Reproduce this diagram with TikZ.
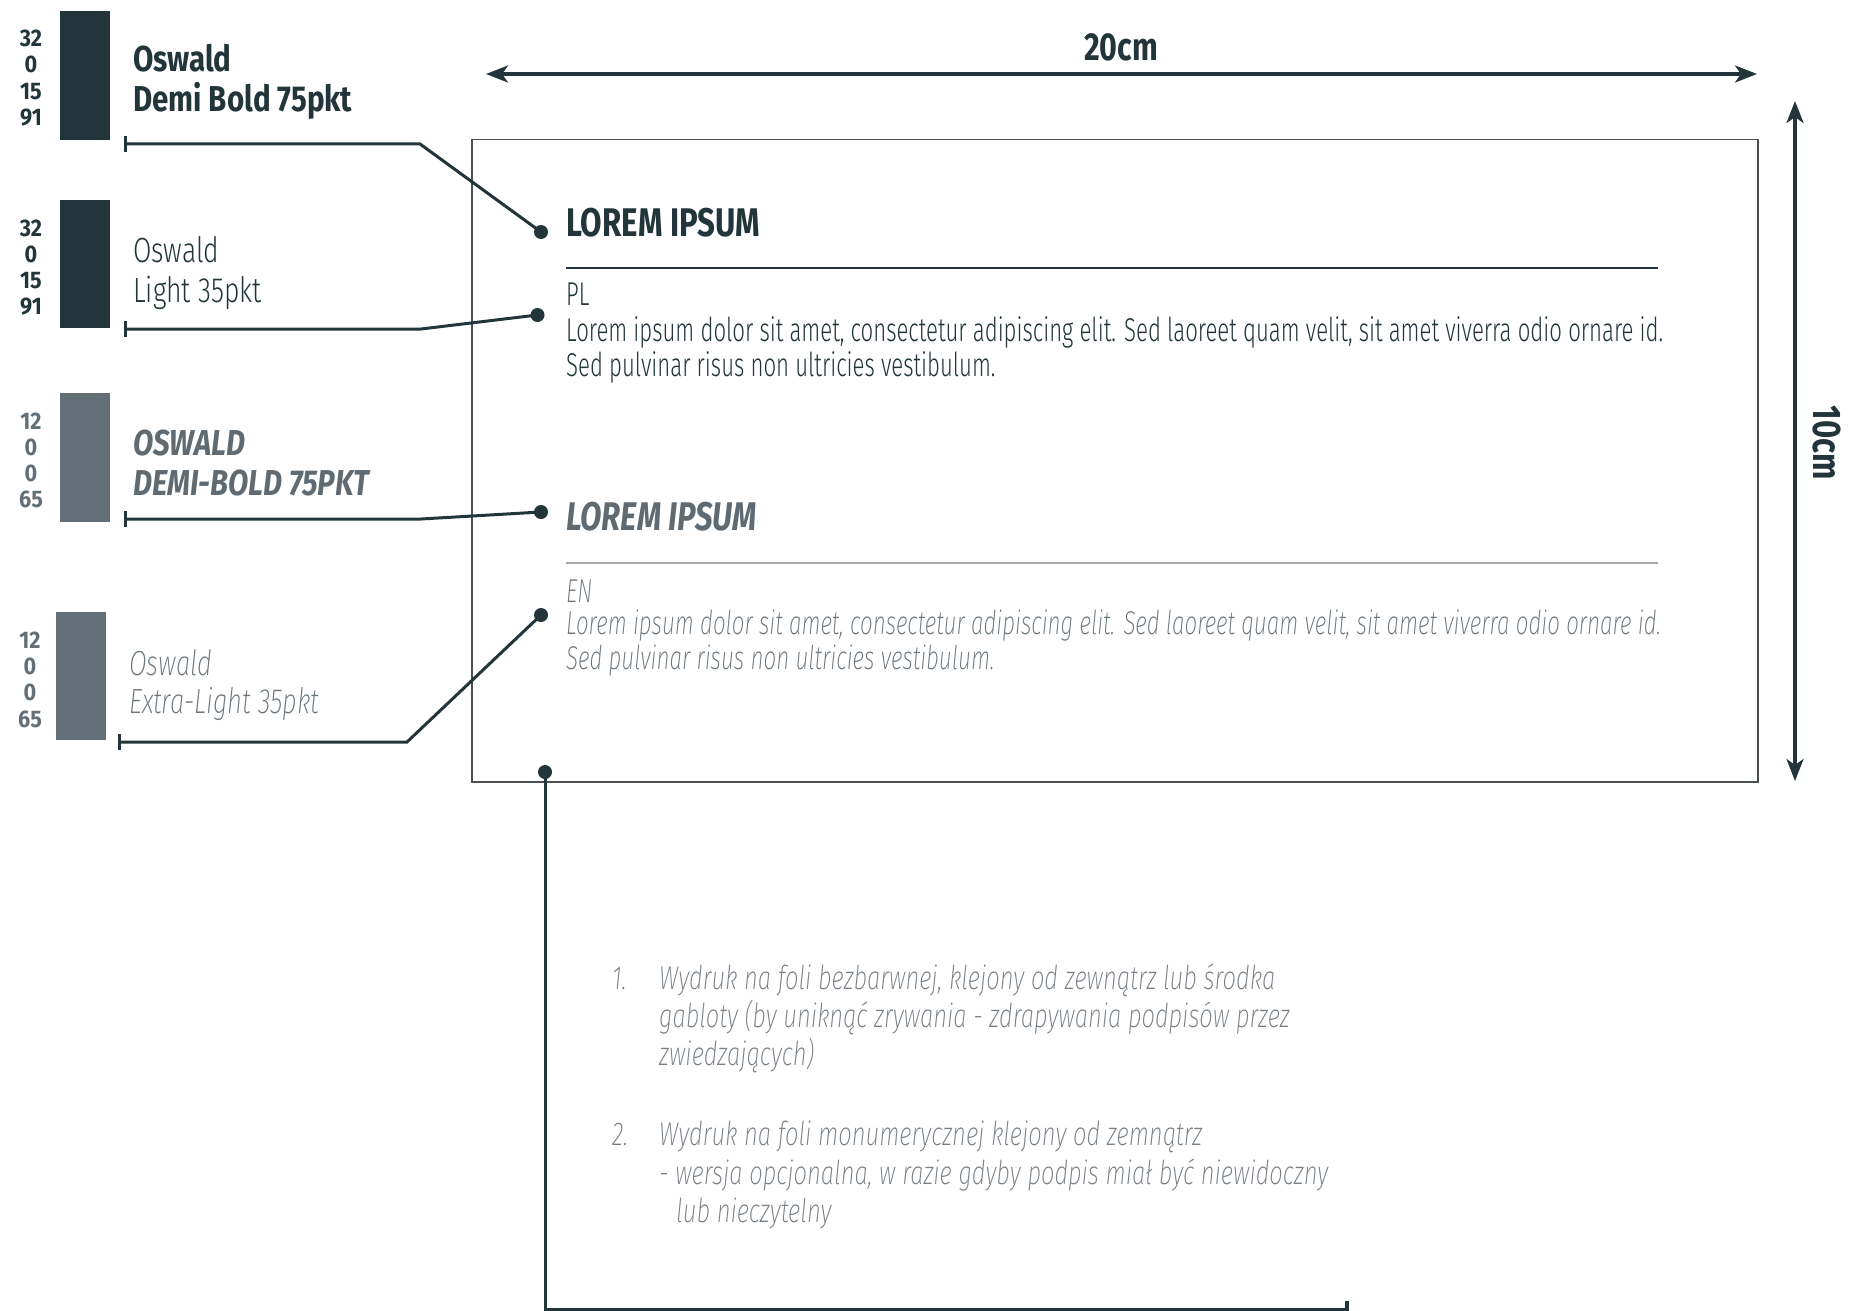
\documentclass[tikz,border=0pt]{standalone}
\usepackage{fontspec}
\usetikzlibrary{arrows.meta}
\setmainfont{Fira Sans}
\newfontfamily\osB{Fira Sans}[FakeStretch=0.78]
\newfontfamily\osBl{Fira Sans}[FakeStretch=0.82]
\newfontfamily\osBn{Fira Sans}[FakeStretch=0.9]
\newfontfamily\osL{Fira Sans Light}[FakeStretch=0.672]
\newfontfamily\osLl{Fira Sans Light}[FakeStretch=0.76]
\newfontfamily\osXL{Fira Sans ExtraLight}[FakeStretch=0.678]
\newfontfamily\osXLl{Fira Sans ExtraLight}[FakeStretch=0.73]
\newfontfamily\osLi{Fira Sans ExtraLight}[FakeStretch=0.72]
\definecolor{dark}{HTML}{22353A}
\definecolor{swgray}{HTML}{636F77}
\definecolor{hgray}{HTML}{5F6A72}
\definecolor{engray}{HTML}{6B757C}
\definecolor{ligray}{HTML}{787F85}
\definecolor{rulegray}{HTML}{A5ABAE}
\definecolor{boxc}{HTML}{4A4F52}
\tikzset{
  lbl/.style={inner sep=0pt, anchor=base west},
  num/.style={inner sep=0pt, anchor=base, font=\osBn\bfseries\fontsize{24}{24}\selectfont},
  dotn/.style={circle, fill=dark, inner sep=0pt, minimum size=14pt},
  conn/.style={draw=dark, line width=3pt},
  tickbar/.style={draw=dark, line width=3.5pt},
  dimarrow/.style={draw=dark, line width=3.5pt, {Stealth[length=22pt,width=17pt,inset=6pt]}-{Stealth[length=22pt,width=17pt,inset=6pt]}},
  fB/.style={font=\osBl\bfseries\fontsize{36}{36}\selectfont},
  fBI/.style={font=\osBl\bfseries\itshape\fontsize{36}{36}\selectfont},
  fL/.style={font=\osLl\fontsize{35}{35}\selectfont},
  fXLI/.style={font=\osXLl\itshape\fontsize{35}{35}\selectfont},
  fbody/.style={font=\osL\fontsize{33}{33}\selectfont, text=dark},
  fbodyen/.style={font=\osXL\itshape\fontsize{33}{33}\selectfont, text=engray},
  flist/.style={font=\osLi\itshape\fontsize{33}{33}\selectfont, text=ligray},
}
\begin{document}
\begin{tikzpicture}[x=1pt,y=-1pt]
\useasboundingbox (0,0) rectangle (1868,1311);
% swatches
\fill[dark] (59.6,11) rectangle (110,140);
\fill[dark] (59.6,200) rectangle (110,328);
\fill[swgray] (60,393) rectangle (110,522);
\fill[swgray] (56.4,612) rectangle (105.7,740);
% numbers
\foreach \t/\y [count=\i] in {32/47,0/73,15/100,91/126} {\node[num,text=dark] (na\i) at (31,\y) {\t};}
\foreach \t/\y [count=\i] in {32/236,0/262,15/288,91/314} {\node[num,text=dark] (nb\i) at (31,\y) {\t};}
\foreach \t/\y [count=\i] in {12/429,0/455,0/481,65/507} {\node[num,text=swgray] (nc\i) at (31,\y) {\t};}
\foreach \t/\y [count=\i] in {12/648,0/674,0/700,65/727} {\node[num,text=swgray] (nd\i) at (30,\y) {\t};}
% labels
\node[lbl,fB,text=dark] (t1a) at (133,72) {Oswald};
\node[lbl,fB,text=dark] (t1b) at (133,112) {Demi Bold 75pkt};
\node[lbl,fL,text=dark] (t2a) at (133,262) {Oswald};
\node[lbl,fL,text=dark] (t2b) at (133,302) {Light 35pkt};
\node[lbl,fBI,text=hgray] (t3a) at (133,455) {OSWALD};
\node[lbl,fBI,text=hgray] (t3b) at (133,495) {DEMI-BOLD 75PKT};
\node[lbl,fXLI,text=engray] (t4a) at (129,675) {Oswald};
\node[lbl,fXLI,text=engray] (t4b) at (129,713) {Extra-Light 35pkt};
% box
\node[draw=boxc, line width=1.5pt, minimum width=1286pt, minimum height=642pt, inner sep=0pt, anchor=north west] (box) at (471,139) {};
% dimension arrows
\coordinate (hl) at (486,74);
\coordinate (hr) at (1757,74);
\draw[dimarrow] (hl) -- (hr);
\node[inner sep=0pt, anchor=base, font=\osB\bfseries\fontsize{39}{39}\selectfont, text=dark] (w20) at (1121,61) {20cm};
\coordinate (vt) at (1795,101);
\coordinate (vb) at (1795,781);
\draw[dimarrow] (vt) -- (vb);
\node[inner sep=0pt, rotate=-90, font=\osB\bfseries\fontsize{40}{40}\selectfont, text=dark] (h10) at (1827,443) {10cm};
% inner content PL
\node[lbl,font=\osB\bfseries\fontsize{40}{40}\selectfont,text=dark] (h1) at (566,236) {LOREM IPSUM};
\coordinate (r1a) at (566,268);
\coordinate (r1b) at (1658,268);
\draw[dark, line width=1.5pt] (r1a) -- (r1b);
\node[lbl,fbody] (pl) at (566,305) {PL};
\node[lbl,fbody] (b1a) at (566,341) {Lorem ipsum dolor sit amet, consectetur adipiscing elit. Sed laoreet quam velit, sit amet viverra odio ornare id.};
\node[lbl,fbody] (b1b) at (566,376) {Sed pulvinar risus non ultricies vestibulum.};
% inner content EN
\node[lbl,font=\osB\bfseries\itshape\fontsize{40}{40}\selectfont,text=hgray] (h2) at (566,530) {LOREM IPSUM};
\coordinate (r2a) at (566,563);
\coordinate (r2b) at (1658,563);
\draw[rulegray, line width=2pt] (r2a) -- (r2b);
\node[lbl,fbodyen] (en) at (566,602) {EN};
\node[lbl,fbodyen] (b2a) at (566,634) {Lorem ipsum dolor sit amet, consectetur adipiscing elit. Sed laoreet quam velit, sit amet viverra odio ornare id.};
\node[lbl,fbodyen] (b2b) at (566,669) {Sed pulvinar risus non ultricies vestibulum.};
% dots and connectors
\node[dotn] (d1) at (541,232) {};
\node[dotn] (d2) at (537.5,315) {};
\node[dotn] (d3) at (541,512) {};
\node[dotn] (d4) at (541,615) {};
\node[dotn] (d5) at (545,772) {};
\coordinate (k1s) at (125.7,144); \coordinate (k1m) at (420,144);
\coordinate (k2s) at (125.7,329); \coordinate (k2m) at (421,329);
\coordinate (k3s) at (125.7,519); \coordinate (k3m) at (421,519);
\coordinate (k4s) at (119.6,742); \coordinate (k4m) at (407,742);
\coordinate (k5m) at (545,1309); \coordinate (k5e) at (1347,1309);
\draw[conn] (k1s) -- (k1m) -- (d1.center);
\draw[conn] (k2s) -- (k2m) -- (d2.center);
\draw[conn] (k3s) -- (k3m) -- (d3.center);
\draw[conn] (k4s) -- (k4m) -- (d4.center);
\draw[conn] (d5.center) -- (k5m) -- (k5e);
% end ticks
\foreach \k in {k1s,k2s,k3s,k4s,k5e} {\draw[tickbar] ([yshift=8pt]\k) -- ([yshift=-8pt]\k);}
% list
\node[lbl,flist] (l1n) at (612,989) {1.};
\node[lbl,flist] (l1a) at (659,989) {Wydruk na foli bezbarwnej, klejony od zewnątrz lub środka};
\node[lbl,flist] (l1b) at (659,1027) {gabloty (by uniknąć zrywania - zdrapywania podpisów przez};
\node[lbl,flist] (l1c) at (659,1065) {zwiedzających)};
\node[lbl,flist] (l2n) at (612,1145) {2.};
\node[lbl,flist] (l2a) at (659,1145) {Wydruk na foli monumerycznej klejony od zemnątrz};
\node[lbl,flist] (l2b) at (659,1184) {- wersja opcjonalna, w razie gdyby podpis miał być niewidoczny};
\node[lbl,flist] (l2c) at (676,1222) {lub nieczytelny};
\end{tikzpicture}
\end{document}
